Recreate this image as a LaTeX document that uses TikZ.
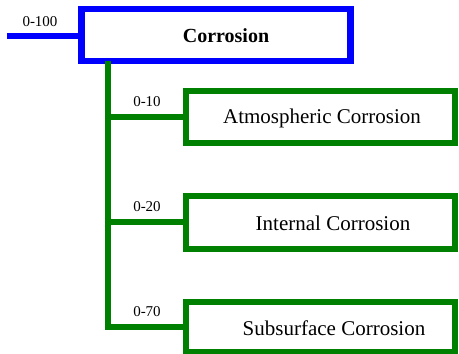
\documentclass[tikz,border=0pt]{standalone}
\usepackage{fontspec}
\setmainfont{Liberation Serif}
\definecolor{rootblue}{RGB}{0,0,255}
\definecolor{leafgreen}{RGB}{0,128,0}
\tikzset{
  rootbox/.style={draw=rootblue, line width=6.5pt, minimum width=269pt, minimum height=52pt, inner sep=0pt},
  leafbox/.style={draw=leafgreen, line width=6pt, minimum width=269pt, inner sep=0pt},
  boxtext/.style={inner sep=0pt, font=\fontsize{21}{24}\selectfont},
  rangelabel/.style={inner sep=0pt, font=\fontsize{15}{17}\selectfont},
  bluelink/.style={rootblue, line width=6pt},
  greenlink/.style={leafgreen, line width=6pt, line join=miter},
}
\begin{document}
\begin{tikzpicture}[x=1pt, y=-1pt]
\useasboundingbox (0,0) rectangle (459,354);

% root box and its incoming line
\node[rootbox] (root) at (216,35) {};
\node[boxtext, font=\fontsize{20}{24}\selectfont\bfseries] (roottext) at (226,36) {Corrosion};
\coordinate (inlet) at (7,36);
\draw[bluelink] (inlet) -- (inlet -| root.west);
\node[rangelabel] (lroot) at (40,22) {0-100};

% leaf boxes
\node[leafbox, minimum height=52.5pt] (atm) at (320.5,116.75) {};
\node[leafbox, minimum height=52.5pt] (int) at (320.5,222.25) {};
\node[leafbox, minimum height=50pt] (sub) at (320.5,326.5) {};
\node[boxtext] (atmtext) at (322,118) {Atmospheric Corrosion};
\node[boxtext] (inttext) at (333,223) {Internal Corrosion};
\node[boxtext] (subtext) at (334,328) {Subsurface Corrosion};

% tree connectors
\coordinate (trunk) at (108,61);
\draw[greenlink] (trunk) |- (sub.west);
\draw[greenlink] (trunk |- atm.west) -- (atm.west);
\draw[greenlink] (trunk |- int.west) -- (int.west);

% range labels
\node[rangelabel] (latm) at (147,102) {0-10};
\node[rangelabel] (lint) at (147,207) {0-20};
\node[rangelabel] (lsub) at (147,312) {0-70};
\end{tikzpicture}
\end{document}
